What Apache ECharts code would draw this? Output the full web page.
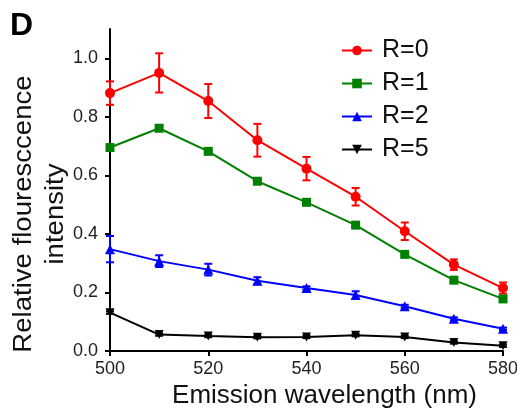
<!DOCTYPE html>
<html><head><meta charset="utf-8">
<script src="https://cdn.jsdelivr.net/npm/echarts@6/dist/echarts.min.js"></script>
<style>html,body{margin:0;padding:0;background:#fff}#c{width:517px;height:412px}</style>
</head><body><div id="c"></div>
<script>
const wavelengths = [500, 510, 520, 530, 540, 550, 560, 570, 580];
const r0 = [0.881, 0.950, 0.854, 0.720, 0.623, 0.527, 0.409, 0.295, 0.215];
const r0Err = [0.040, 0.067, 0.058, 0.056, 0.040, 0.030, 0.030, 0.018, 0.019];
const r1 = [0.695, 0.761, 0.682, 0.580, 0.508, 0.430, 0.330, 0.242, 0.178];
const r1Err = [0.004, 0.004, 0.004, 0.006, 0.004, 0.004, 0.004, 0.004, 0.006];
const r2 = [0.348, 0.307, 0.278, 0.240, 0.215, 0.191, 0.153, 0.110, 0.076];
const r2Err = [0.045, 0.020, 0.020, 0.012, 0.006, 0.013, 0.005, 0.005, 0.004];
const r5 = [0.131, 0.056, 0.051, 0.047, 0.048, 0.054, 0.048, 0.029, 0.018];
const r5Err = [0.004, 0.004, 0.004, 0.004, 0.004, 0.004, 0.004, 0.004, 0.004];
const seriesNames = ['R=0', 'R=1', 'R=2', 'R=5'];
const yTicks = [0, 0.2, 0.4, 0.6, 0.8, 1.0];
const xTicks = [500, 520, 540, 560, 580];

const colors = ['#ff0000', '#008000', '#0000ff', '#000000'];
const symbols = ['circle', 'rect', 'triangle', 'triangle'];
const symbolSizes = [10, 9, 10, 9];
const rotations = [0, 0, 0, 180];
const vals = [r0, r1, r2, r5];
const errs = [r0Err, r1Err, r2Err, r5Err];

const series = [];
vals.forEach((v, i) => {
  series.push({
    name: seriesNames[i], type: 'line',
    data: wavelengths.map((x, k) => [x, v[k]]),
    symbol: symbols[i], symbolSize: symbolSizes[i], symbolRotate: rotations[i],
    lineStyle: { color: colors[i], width: 2 },
    itemStyle: { color: colors[i] },
    z: 3
  });
  series.push({
    name: seriesNames[i], type: 'custom',
    data: wavelengths.map((x, k) => [x, v[k] - errs[i][k], v[k] + errs[i][k]]),
    renderItem: function (params, api) {
      const lo = api.coord([api.value(0), api.value(1)]);
      const hi = api.coord([api.value(0), api.value(2)]);
      const w = 4;
      const st = { stroke: colors[i], lineWidth: 2 };
      return { type: 'group', children: [
        { type: 'line', shape: { x1: lo[0], y1: lo[1], x2: hi[0], y2: hi[1] }, style: st },
        { type: 'line', shape: { x1: lo[0] - w, y1: lo[1], x2: lo[0] + w, y2: lo[1] }, style: st },
        { type: 'line', shape: { x1: hi[0] - w, y1: hi[1], x2: hi[0] + w, y2: hi[1] }, style: st }
      ]};
    },
    z: 2
  });
});

const font = 'Liberation Sans, Arial, sans-serif';
const chart = echarts.init(document.getElementById('c'), null, { renderer: 'canvas' });
chart.setOption({
  animation: false,
  backgroundColor: '#fff',
  grid: { left: 110, right: 14, top: 29, bottom: 61, containLabel: false, outerBoundsMode: 'none' },
  legend: {
    data: seriesNames, orient: 'vertical', left: 336, top: 33,
    itemWidth: 30, itemHeight: 12, itemGap: 8,
    textStyle: { fontSize: 25, fontFamily: font, color: '#111', padding: [0, 0, 0, 5] }
  },
  xAxis: {
    type: 'value', min: 500, max: 580, interval: 20,
    name: 'Emission wavelength (nm)', nameLocation: 'middle', nameGap: 30,
    nameTextStyle: { fontSize: 26, fontFamily: font, color: '#111', padding: [0, 0, 0, 36] },
    axisLine: { show: true, lineStyle: { color: '#000', width: 2 } },
    axisTick: { show: true, length: 5, lineStyle: { color: '#000', width: 2 }, customValues: xTicks },
    axisLabel: { fontSize: 18, fontFamily: font, color: '#222', margin: 9, customValues: xTicks },
    splitLine: { show: false }
  },
  yAxis: {
    type: 'value', min: 0, max: 1.1, interval: 0.2,
    axisLine: { show: true, lineStyle: { color: '#000', width: 2 } },
    axisTick: { show: true, length: 5, lineStyle: { color: '#000', width: 2 }, customValues: yTicks },
    axisLabel: { fontSize: 18, fontFamily: font, color: '#222', margin: 12, customValues: yTicks,
      formatter: v => v.toFixed(1) },
    splitLine: { show: false }
  },
  graphic: [
    { type: 'text', left: 10, top: 10, style: { text: 'D', font: 'bold 32px ' + font, fill: '#000' } },
    { type: 'text', x: 24, y: 214, rotation: Math.PI / 2, scaleX: 1.06,
      style: { text: 'Relative flouresccence', font: '26px ' + font, fill: '#111', align: 'center', verticalAlign: 'middle' } },
    { type: 'text', x: 56, y: 214, rotation: Math.PI / 2, scaleX: 1.06,
      style: { text: 'intensity', font: '26px ' + font, fill: '#111', align: 'center', verticalAlign: 'middle' } }
  ],
  series: series
});
</script></body></html>
